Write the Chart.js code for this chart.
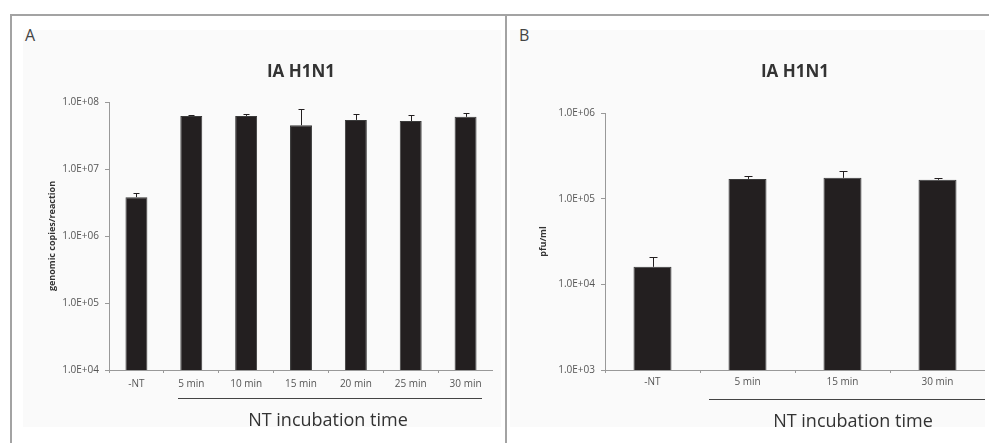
<!DOCTYPE html>
<html>
<head>
<meta charset="utf-8">
<script src="https://cdn.jsdelivr.net/npm/chart.js@4"></script>
<style>
  body { margin: 0; width: 989px; height: 443px; overflow: hidden; position: relative; background: #fff; font-family: 'Open Sans', sans-serif; }
  .abs { position: absolute; }
  .frame { background: #a3a3a3; }
  .inner { background: #fafafa; }
  .letter { font-size: 16px; color: #444; line-height: 1; }
  .xtitle { font-size: 18px; color: #333; line-height: 1; white-space: nowrap; transform: translate(-50%, -50%); }
  .rule { height: 1px; background: #444; }
  canvas { position: absolute; }
</style>
</head>
<body>
<!-- frame -->
<div class="abs frame" style="left:10px;top:14px;width:979px;height:2px"></div>
<div class="abs frame" style="left:10px;top:14px;width:2px;height:429px"></div>
<div class="abs frame" style="left:505px;top:14px;width:2px;height:429px"></div>
<div class="abs inner" style="left:23px;top:30px;width:478px;height:397px"></div>
<div class="abs inner" style="left:510px;top:30px;width:475px;height:397px"></div>

<div class="abs letter" style="left:25px;top:27px">A</div>
<div class="abs letter" style="left:519px;top:27px">B</div>

<canvas id="chartA" width="470" height="400" style="left:23px;top:30px"></canvas>
<canvas id="chartB" width="467" height="400" style="left:518px;top:30px"></canvas>

<div class="abs rule" style="left:178px;top:398px;width:304px"></div>
<div class="abs rule" style="left:709px;top:399px;width:276px"></div>
<div class="abs xtitle" style="left:328px;top:419px">NT incubation time</div>
<div class="abs xtitle" style="left:853px;top:420px">NT incubation time</div>

<script>
// ---------- data: panel A (genomic copies) ----------
const catsA = ['-NT', '5 min', '10 min', '15 min', '20 min', '25 min', '30 min'];
const valsA = [3.8e6, 6.2e7, 6.2e7, 4.5e7, 5.4e7, 5.2e7, 6.0e7];
const errA  = [0.6e6, 0.15e7, 0.4e7, 3.3e7, 1.3e7, 1.2e7, 0.8e7];
const yTicksA = [1e4, 1e5, 1e6, 1e7, 1e8];
const yLabelsA = ['1.0E+04', '1.0E+05', '1.0E+06', '1.0E+07', '1.0E+08'];

// ---------- data: panel B (pfu/ml) ----------
const catsB = ['-NT', '5 min', '15 min', '30 min'];
const valsB = [1.6e4, 1.7e5, 1.75e5, 1.66e5];
const errB  = [0.5e4, 0.12e5, 0.35e5, 0.07e5];
const yTicksB = [1e3, 1e4, 1e5, 1e6];
const yLabelsB = ['1.0E+03', '1.0E+04', '1.0E+05', '1.0E+06'];

Chart.defaults.font.family = "'Open Sans', sans-serif";
Chart.defaults.devicePixelRatio = 1;

// upper error bars, drawn from the y scale
const errorBars = {
    id: 'errorBars',
    afterDatasetsDraw(chart, args, opts) {
        const ctx = chart.ctx;
        const meta = chart.getDatasetMeta(0);
        const y = chart.scales.y;
        const vals = chart.data.datasets[0].data;
        ctx.save();
        ctx.strokeStyle = '#231f20';
        ctx.lineWidth = 1;
        meta.data.forEach((bar, i) => {
            const yTop = Math.round(y.getPixelForValue(vals[i] + opts.err[i])) + 0.5;
            const yBar = y.getPixelForValue(vals[i]);
            const x = Math.round(bar.x) + 0.5;
            ctx.beginPath();
            ctx.moveTo(x, yBar);
            ctx.lineTo(x, yTop);
            ctx.moveTo(x - opts.cap, yTop);
            ctx.lineTo(x + opts.cap, yTop);
            ctx.stroke();
        });
        ctx.restore();
    }
};

function makeChart(id, cfg) {
    return new Chart(document.getElementById(id), {
        type: 'bar',
        data: {
            labels: cfg.cats,
            datasets: [{
                data: cfg.vals,
                backgroundColor: '#231f20',
                borderColor: '#3a3a3a',
                borderWidth: 1,
                barPercentage: 0.4,
                categoryPercentage: 1
            }]
        },
        plugins: [errorBars],
        options: {
            responsive: false,
            animation: false,
            layout: { padding: 0 },
            plugins: {
                legend: { display: false },
                tooltip: { enabled: false },
                errorBars: { err: cfg.err, cap: cfg.cap },
                title: {
                    display: true,
                    fullSize: false,   // centre over the plot area, not the canvas
                    text: 'IA H1N1',
                    color: '#333',
                    font: { size: 17, weight: 'bold' },
                    padding: { top: 32, bottom: cfg.titleBottom }
                }
            },
            scales: {
                x: {
                    afterFit: s => { s.height = 60; },
                    grid: { display: true, drawOnChartArea: false, drawTicks: true, tickLength: 3, color: '#999' },
                    border: { display: true, color: '#999', width: 1 },
                    ticks: { color: '#555', font: { size: 10 }, padding: cfg.xPad, maxRotation: 0, autoSkip: false }
                },
                y: {
                    type: 'logarithmic',
                    min: cfg.ticks[0],
                    max: cfg.ticks[cfg.ticks.length - 1],
                    afterFit: s => { s.width = cfg.yWidth; },
                    afterBuildTicks: s => { s.ticks = cfg.ticks.map(v => ({ value: v })); },
                    grid: { display: true, drawOnChartArea: false, drawTicks: true, tickLength: 4, color: '#999' },
                    border: { display: true, color: '#999', width: 1 },
                    ticks: {
                        color: '#555',
                        font: { size: 10 },
                        padding: 6,
                        callback: (v, i) => cfg.labels[i]
                    },
                    title: {
                        display: true,
                        text: cfg.yTitle,
                        color: '#333',
                        font: { size: 9, weight: 'bold' },
                        padding: { top: cfg.yTitlePad, bottom: 0 }
                    }
                }
            }
        }
    });
}

makeChart('chartA', {
    cats: catsA, vals: valsA, err: errA, ticks: yTicksA, labels: yLabelsA,
    yTitle: 'genomic copies/reaction', yWidth: 86, yTitlePad: 24,
    titleBottom: 19.6, xPad: 5, cap: 3
});

makeChart('chartB', {
    cats: catsB, vals: valsB, err: errB, ticks: yTicksB, labels: yLabelsB,
    yTitle: 'pfu/ml', yWidth: 87, yTitlePad: 20,
    titleBottom: 30.6, xPad: 3, cap: 4
});
</script>
</body>
</html>
